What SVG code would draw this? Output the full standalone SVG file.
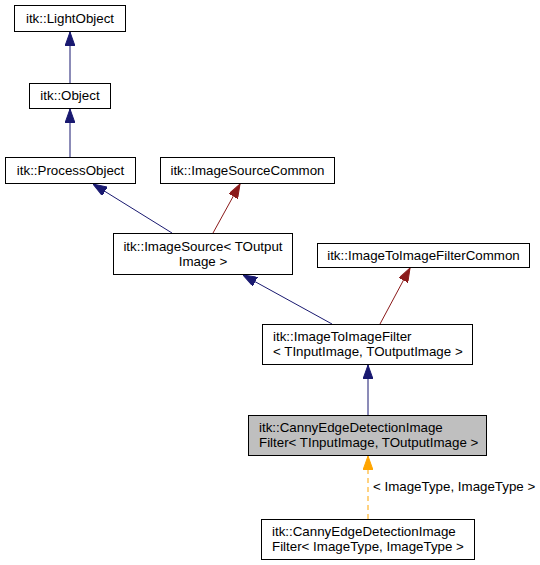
<svg xmlns="http://www.w3.org/2000/svg" width="540" height="565" viewBox="0 0 540 565">
<style>
.n rect{fill:#fff;stroke:#000;stroke-width:1}
.n text{font-family:"Liberation Sans",Arial,sans-serif;font-size:13.33px;fill:#000}
.c{text-anchor:middle}
.e{fill:none;stroke-width:1}
.b{stroke:#191970}
.r{stroke:#8b1a1a}
.o{stroke:#ffa500;stroke-dasharray:5,4}
.lbl{font-family:"Liberation Sans",Arial,sans-serif;font-size:13.33px;fill:#000}
</style>
<defs>
<marker id="mb" viewBox="0 0 14 10" markerWidth="14" markerHeight="10" refX="14" refY="5" orient="auto" markerUnits="userSpaceOnUse"><path d="M0,0 L14,5 L0,10 z" fill="#191970" stroke="#191970"/></marker>
<marker id="mr" viewBox="0 0 14 10" markerWidth="14" markerHeight="10" refX="14" refY="5" orient="auto" markerUnits="userSpaceOnUse"><path d="M0,0 L14,5 L0,10 z" fill="#8b1a1a" stroke="#8b1a1a"/></marker>
<marker id="mo" viewBox="0 0 14 10" markerWidth="14" markerHeight="10" refX="14" refY="5" orient="auto" markerUnits="userSpaceOnUse"><path d="M0,0 L14,5 L0,10 z" fill="#ffa500" stroke="#ffa500"/></marker>
</defs>
<rect width="540" height="565" fill="#fff"/>
<g id="edges">
<path class="e b" d="M70,83 L70,32" marker-end="url(#mb)"/>
<path class="e b" d="M70,157 L70,109" marker-end="url(#mb)"/>
<path class="e b" d="M172,233 L93,184" marker-end="url(#mb)"/>
<path class="e r" d="M213,233 L240,184" marker-end="url(#mr)"/>
<path class="e b" d="M332,324 L243,275" marker-end="url(#mb)"/>
<path class="e r" d="M380,324 L410,268" marker-end="url(#mr)"/>
<path class="e b" d="M368,415 L368,365" marker-end="url(#mb)"/>
<path class="e o" d="M368,519 L368,456" marker-end="url(#mo)"/>
<text class="lbl" x="373" y="491">&lt; ImageType, ImageType &gt;</text>
</g>
<g id="n_lightobject" class="n"><rect x="14.5" y="5.5" width="111" height="26"/><text class="c" x="70" y="23">itk::LightObject</text></g>
<g id="n_object" class="n"><rect x="29.5" y="83.5" width="81" height="25"/><text class="c" x="70" y="100">itk::Object</text></g>
<g id="n_processobject" class="n"><rect x="5.5" y="157.5" width="130" height="26"/><text class="c" x="70.5" y="175">itk::ProcessObject</text></g>
<g id="n_imagesourcecommon" class="n"><rect x="160.5" y="157.5" width="174" height="26"/><text class="c" x="247.5" y="175">itk::ImageSourceCommon</text></g>
<g id="n_imagesource" class="n"><rect x="113.5" y="233.5" width="179" height="41"/><text class="c" x="203" y="251">itk::ImageSource&lt; TOutput</text><text class="c" x="203" y="266">Image &gt;</text></g>
<g id="n_imagetoimagefiltercommon" class="n"><rect x="317.5" y="243.5" width="212" height="24"/><text class="c" x="423.5" y="260">itk::ImageToImageFilterCommon</text></g>
<g id="n_imagetoimagefilter" class="n"><rect x="262.5" y="324.5" width="210" height="40"/><text x="273" y="341">itk::ImageToImageFilter</text><text x="273" y="356">&lt; TInputImage, TOutputImage &gt;</text></g>
<g id="n_canny" class="n"><rect x="248.5" y="415.5" width="238" height="40" style="fill:#bfbfbf"/><text x="259" y="432">itk::CannyEdgeDetectionImage</text><text x="259" y="447">Filter&lt; TInputImage, TOutputImage &gt;</text></g>
<g id="n_canny_it" class="n"><rect x="261.5" y="519.5" width="213" height="40"/><text x="272" y="536">itk::CannyEdgeDetectionImage</text><text x="272" y="551">Filter&lt; ImageType, ImageType &gt;</text></g>
</svg>
